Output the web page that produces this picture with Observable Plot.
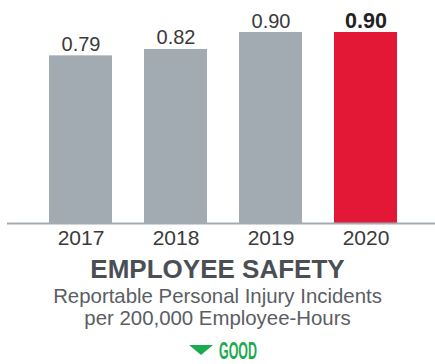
<!DOCTYPE html>
<html>
<head>
<meta charset="utf-8">
<script src="https://cdn.jsdelivr.net/npm/d3@7"></script>
<script src="https://cdn.jsdelivr.net/npm/@observablehq/plot@0.6"></script>
<style>
  body { margin: 0; background: #fff; font-family: "Liberation Sans", Arial, sans-serif; overflow: hidden; }
  #wrap { width: 435px; height: 364px; position: relative; }
  #chart svg { display: block; }
  .title { text-align: center; font-weight: 700; font-size: 26px; line-height: 28px; color: #4a4f56; margin-top: 1px; }
  .sub { text-align: center; font-weight: 400; font-size: 20.4px; line-height: 22px; color: #5a5e64; margin-top: 2px; }
  #good { position: absolute; left: 0; top: 336px; display: block; }
</style>
</head>
<body>
<div id="wrap">
  <div id="chart"></div>
  <div class="title">EMPLOYEE SAFETY</div>
  <div class="sub">Reportable Personal Injury Incidents<br>per 200,000 Employee-Hours</div>
  <svg id="good" width="435" height="28">
    <polygon points="189,9 213,9 201,19" fill="#1aab4f"></polygon>
    <text x="0" y="0" transform="translate(219,23) scale(0.54,1)" style="font: bold 23px 'Liberation Sans', Arial, sans-serif; fill: #1aab4f;">GOOD</text>
  </svg>
</div>
<script>
const years = ["2017", "2018", "2019", "2020"];
const values = [0.79, 0.82, 0.90, 0.90];
const labels = ["0.79", "0.82", "0.90", "0.90"];
const highlight = [false, false, false, true];

const data = years.map((y, i) => ({year: y, value: values[i], label: labels[i], hi: highlight[i]}));
const normal = data.filter(d => !d.hi);
const hot = data.filter(d => d.hi);

const chart = Plot.plot({
  width: 435,
  height: 254,
  marginTop: 32,
  marginBottom: 31,
  marginLeft: 7,
  marginRight: 0,
  style: {fontFamily: "'Liberation Sans', Arial, sans-serif", fontSize: "20px", color: "#333"},
  x: {domain: years, paddingInner: 1/3, paddingOuter: 0.396, align: 0.526, label: null},
  y: {domain: [0, 0.9], axis: null},
  marks: [
    Plot.barY(normal, {x: "year", y: "value", fill: "#a2abb1"}),
    Plot.barY(hot, {x: "year", y: "value", fill: "#e31837"}),
    Plot.ruleY([0], {stroke: "#a2abb1", strokeWidth: 2}),
    Plot.text(normal, {x: "year", y: "value", text: "label", dy: -5, lineAnchor: "bottom",
      fontSize: 20, fontWeight: 400, fill: "#3a3a3a"}),
    Plot.text(hot, {x: "year", y: "value", text: "label", dy: -5, lineAnchor: "bottom",
      fontSize: 21.5, fontWeight: 700, fill: "#222"}),
    Plot.axisX({tickSize: 0, tickPadding: 7, fontSize: 21, fill: "#3a3a3a", label: null})
  ]
});
document.getElementById("chart").appendChild(chart);
</script>
</body>
</html>
